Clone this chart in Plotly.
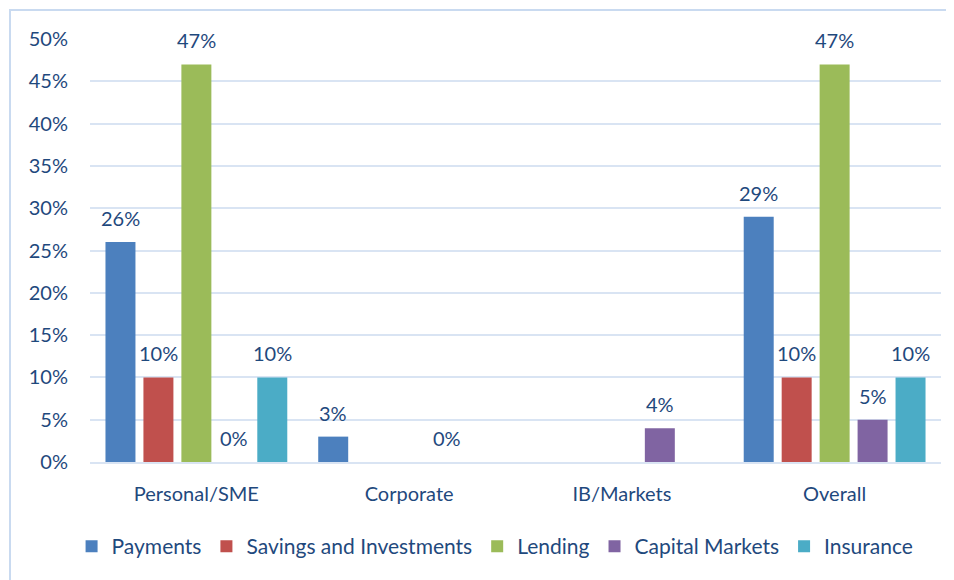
import plotly.graph_objects as go

categories = ["Personal/SME", "Corporate", "IB/Markets", "Overall"]
payments = [26, 3, None, 29]
savings = [10, None, None, 10]
lending = [47, None, None, 47]
capital_markets = [0, 0, 4, 5]
insurance = [10, None, None, 10]

series = [
    ("Payments", payments, "#4C80BE"),
    ("Savings and Investments", savings, "#C0504D"),
    ("Lending", lending, "#9BBB59"),
    ("Capital Markets", capital_markets, "#8064A2"),
    ("Insurance", insurance, "#4BACC6"),
]

text_color = "#1F497D"
grid_color = "#D9E4F3"
font_family = "Lato, 'Open Sans', sans-serif"

bargap = 0.108
n_series = len(series)
slot = (1 - bargap) / n_series  # width of one bar slot in category units

fig = go.Figure()
annotations = []
for i, (name, values, color) in enumerate(series):
    fig.add_trace(go.Bar(
        x=categories,
        y=[v / 100 if v is not None else None for v in values],
        name=name,
        marker=dict(color=color, line=dict(width=0)),
    ))
    # value labels, placed over each bar's slot
    for j, v in enumerate(values):
        if v is None:
            continue
        annotations.append(dict(
            x=j + (i - (n_series - 1) / 2) * slot,
            y=v / 100,
            xref="x", yref="y",
            text=f"{v}%",
            showarrow=False,
            yanchor="bottom",
            yshift=10,
            font=dict(size=20, color=text_color),
        ))

fig.update_layout(
    width=946,
    height=572,
    barmode="group",
    bargap=bargap,
    bargroupgap=0.21,
    plot_bgcolor="white",
    paper_bgcolor="white",
    margin=dict(l=82, r=13, t=31, b=118),
    font=dict(family=font_family, color=text_color, size=20),
    legend=dict(
        orientation="h",
        x=0.476, xanchor="center",
        y=-0.2, yanchor="middle",
        font=dict(size=21, color=text_color),
        itemwidth=30,
        traceorder="normal",
    ),
    annotations=annotations,
    shapes=[dict(
        type="rect", xref="paper", yref="paper",
        x0=-0.094, x1=1.1, y0=-0.4, y1=1.0686,
        line=dict(color="#C9DAF0", width=2),
    )],
)

fig.update_yaxes(
    range=[0, 0.5],
    dtick=0.05,
    tickformat=".0%",
    showgrid=True,
    gridcolor=grid_color,
    gridwidth=2,
    zeroline=False,
    showline=False,
    tickfont=dict(size=20, color=text_color),
    ticklabelstandoff=21,
)
fig.update_xaxes(
    showline=True,
    linecolor=grid_color,
    linewidth=2,
    tickfont=dict(size=20, color=text_color),
    ticklabelstandoff=13,
)

fig.write_html("out.html")
